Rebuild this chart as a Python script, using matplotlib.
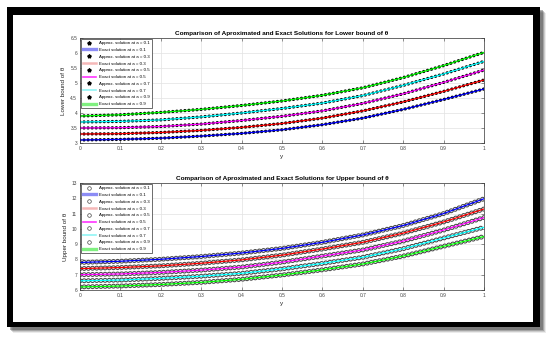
import numpy as np
import matplotlib
matplotlib.use("Agg")
import matplotlib.pyplot as plt
from matplotlib.patches import Rectangle
from matplotlib.lines import Line2D
from matplotlib.ticker import FuncFormatter

plt.rcParams['font.family'] = ['Liberation Sans', 'DejaVu Sans']
plt.rcParams['lines.scale_dashes'] = False

# y positions where the curves were read
y = [0.0, 0.1, 0.2, 0.3, 0.4, 0.5, 0.6, 0.7, 0.8, 0.9, 1.0]
a_values = ["0.1", "0.3", "0.5", "0.7", "0.9"]
colors = ["#0000ff", "#ff0000", "#ff00ff", "#00ffff", "#00ff00"]
legend_colors = ["#8c8cf5", "#f5b8b8", "#ff33ff", "#90f5f5", "#80f080"]
legend_widths = [2.4, 1.8, 1.2, 1.2, 2.4]

# lower bound of theta
lower_a01 = [3.10, 3.12, 3.16, 3.23, 3.32, 3.44, 3.61, 3.83, 4.12, 4.45, 4.80]
lower_a03 = [3.30, 3.31, 3.35, 3.42, 3.52, 3.65, 3.83, 4.07, 4.37, 4.72, 5.10]
lower_a05 = [3.50, 3.51, 3.55, 3.63, 3.75, 3.89, 4.07, 4.32, 4.64, 5.02, 5.43]
lower_a07 = [3.70, 3.72, 3.77, 3.87, 4.00, 4.15, 4.33, 4.58, 4.92, 5.30, 5.72]
lower_a09 = [3.90, 3.94, 4.02, 4.12, 4.25, 4.40, 4.59, 4.84, 5.18, 5.58, 6.02]

# upper bound of theta
upper_a01 = [7.80, 7.88, 8.01, 8.19, 8.42, 8.72, 9.12, 9.60, 10.22, 11.00, 11.97]
upper_a03 = [7.40, 7.47, 7.58, 7.75, 7.97, 8.28, 8.68, 9.12, 9.72, 10.45, 11.30]
upper_a05 = [7.00, 7.05, 7.15, 7.30, 7.50, 7.82, 8.22, 8.62, 9.20, 9.92, 10.74]
upper_a07 = [6.60, 6.65, 6.76, 6.90, 7.09, 7.38, 7.74, 8.14, 8.70, 9.40, 10.10]
upper_a09 = [6.20, 6.26, 6.36, 6.50, 6.70, 6.98, 7.32, 7.70, 8.22, 8.86, 9.50]

lower = [lower_a01, lower_a03, lower_a05, lower_a07, lower_a09]
upper = [upper_a01, upper_a03, upper_a05, upper_a07, upper_a09]

W, H = 550, 340
fig = plt.figure(figsize=(5.5, 3.4), dpi=100)


def px_rect(x0, y0, x1, y1, **kw):
    r = Rectangle((x0 / W, 1 - y1 / H), (x1 - x0) / W, (y1 - y0) / H,
                  transform=fig.transFigure, zorder=-10, **kw)
    fig.patches.append(r)


# picture frame with a soft shadow
for k, al in enumerate([0.10, 0.18, 0.28, 0.4]):
    s = 6 - k
    px_rect(7 + s, 7 + s, 540 + s, 327 + s, facecolor="#404040", alpha=al, lw=0)
px_rect(7, 7, 540, 327, facecolor="black", lw=0)
px_rect(13, 15, 533, 322, facecolor="white", lw=0)

fmt = FuncFormatter(lambda v, p: "%g" % v)


def style_axes(ax, yticks, ylim, ylabel, title):
    ax.set_xlim(0, 1)
    ax.set_ylim(*ylim)
    ax.set_xticks(np.arange(0, 1.01, 0.1))
    ax.set_yticks(yticks)
    ax.xaxis.set_major_formatter(fmt)
    ax.yaxis.set_major_formatter(fmt)
    ax.grid(True, color="#e2e2e2", lw=0.5)
    ax.set_axisbelow(True)
    ax.tick_params(direction="in", length=2, width=0.4, labelsize=3.5,
                   colors="#444444", pad=2, top=True, right=True)
    for sp in ax.spines.values():
        sp.set_linewidth(0.5)
        sp.set_color("#333333")
    ax.set_xlabel("y", fontsize=4.5, color="#222222", labelpad=2)
    ax.set_ylabel(ylabel, fontsize=4.5, color="#222222", labelpad=3)
    ax.set_title(title, fontsize=4.6, fontweight="bold", pad=2)


# ---- lower bound plot ----
ax1 = fig.add_axes([80 / W, 1 - 143 / H, 404 / W, 105 / H])
handles = []
for vals, c, lc, lw, a in zip(lower, colors, legend_colors, legend_widths, a_values):
    ax1.plot(y, vals, color="black", lw=2.4, ls=(0, (0.01, 2.9)),
             dash_capstyle="round")
    ax1.plot(y, vals, color=c, lw=0.9)
    handles.append(Line2D([], [], ls="none", marker="*", ms=2.8, color="black"))
    handles.append(Line2D([], [], color=lc, lw=lw))
labels = []
for a in a_values:
    labels.append("Approx. solution at a = " + a)
    labels.append("Exact solution at a = " + a)
style_axes(ax1, np.arange(3, 6.51, 0.5), (3, 6.5), "Lower bound of θ",
           "Comparison of Aproximated and Exact Solutions for Lower bound of θ")
leg = ax1.legend(handles, labels, loc="upper left", fontsize=3.2,
                 fancybox=False, framealpha=1, edgecolor="#333333",
                 handlelength=2.8, labelspacing=0.6, borderaxespad=0.3,
                 handletextpad=0.8)
leg.get_frame().set_linewidth(0.5)

# ---- upper bound plot ----
ax2 = fig.add_axes([80 / W, 1 - 290 / H, 404 / W, 107 / H])
handles2 = []
for vals, c, lc, lw, a in zip(upper, colors, legend_colors, legend_widths, a_values):
    ax2.plot(y, vals, color="#4a4a4a", lw=3.6, ls=(0, (0.01, 3.0)),
             dash_capstyle="round")
    ax2.plot(y, vals, color="white", lw=2.1, ls=(0, (0.01, 3.0)),
             dash_capstyle="round")
    ax2.plot(y, vals, color=c, lw=0.9)
    handles2.append(Line2D([], [], ls="none", marker="o", ms=2.6, mfc="none",
                           mec="#444444", mew=0.5))
    handles2.append(Line2D([], [], color=lc, lw=lw))
style_axes(ax2, np.arange(6, 13.01, 1), (6, 13), "Upper bound of θ",
           "Comparison of Aproximated and Exact Solutions for Upper bound of θ")
leg2 = ax2.legend(handles2, labels, loc="upper left", fontsize=3.2,
                  fancybox=False, framealpha=1, edgecolor="#333333",
                  handlelength=2.8, labelspacing=0.6, borderaxespad=0.3,
                  handletextpad=0.8)
leg2.get_frame().set_linewidth(0.5)

fig.savefig("out.png", dpi=100)
